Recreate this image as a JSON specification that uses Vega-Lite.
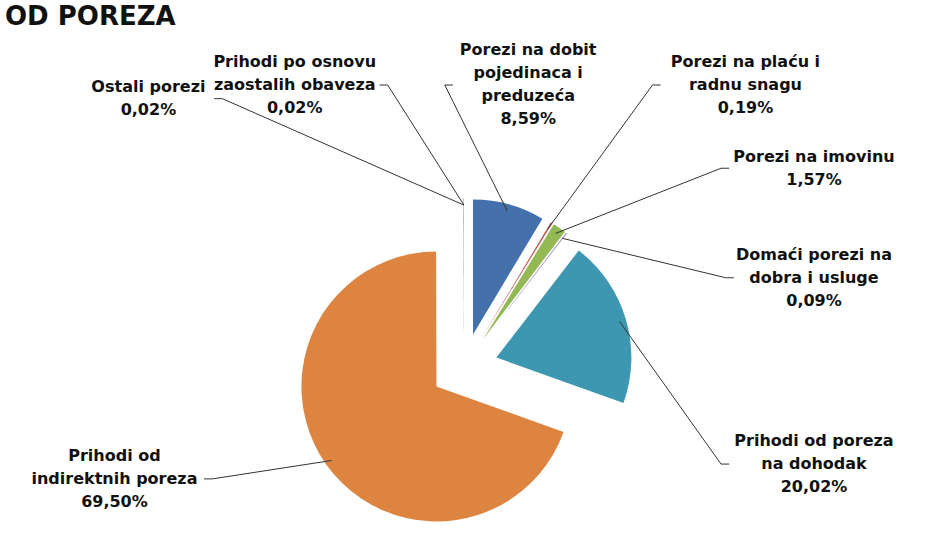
{
  "$schema": "https://vega.github.io/schema/vega-lite/v6.json",
  "width": 935,
  "height": 547,
  "autosize": {"type": "none"},
  "padding": 0,
  "background": "#ffffff",
  "config": {"view": {"stroke": null}},
  "title": {"text": "OD POREZA", "anchor": "start", "frame": "group", "orient": "top", "offset": -30, "dx": 5, "font": "DejaVu Sans", "fontSize": 26, "fontWeight": "bold", "color": "#111111"},
  "data": {"values": [
    {"category": "Porezi na dobit pojedinaca i preduzeća", "label": "Porezi na dobit\npojedinaca i\npreduzeća", "value": 8.59},
    {"category": "Porezi na plaću i radnu snagu", "label": "Porezi na plaću i\nradnu snagu", "value": 0.19},
    {"category": "Porezi na imovinu", "label": "Porezi na imovinu", "value": 1.57},
    {"category": "Domaći porezi na dobra i usluge", "label": "Domaći porezi na\ndobra i usluge", "value": 0.09},
    {"category": "Prihodi od poreza na dohodak", "label": "Prihodi od poreza\nna dohodak", "value": 20.02},
    {"category": "Prihodi od indirektnih poreza", "label": "Prihodi od\nindirektnih poreza", "value": 69.50},
    {"category": "Ostali porezi", "label": "Ostali porezi", "value": 0.02},
    {"category": "Prihodi po osnovu zaostalih obaveza", "label": "Prihodi po osnovu\nzaostalih obaveza", "value": 0.02}
  ]},
  "transform": [
    {"window": [{"op": "sum", "field": "value", "as": "cum"}], "frame": [null, 0]},
    {"calculate": "datum.cum - datum.value", "as": "v0"},
    {"calculate": "(datum.cum - datum.value / 2) * PI / 50", "as": "mid"},
    {"calculate": "datum.value + 12", "as": "w"},
    {"window": [{"op": "sum", "field": "w", "as": "wcum"}], "frame": [null, 0]},
    {"joinaggregate": [{"op": "sum", "field": "w", "as": "wtot"}]},
    {"calculate": "(datum.wcum - datum.w / 2) / datum.wtot * 2 * PI - 0.1885", "as": "la"},
    {"calculate": "0.25 * sin(datum.mid)", "as": "cx"},
    {"calculate": "0.25 * cos(datum.mid)", "as": "cy"},
    {"calculate": "1.2 * sin(datum.mid)", "as": "sx"},
    {"calculate": "1.2 * cos(datum.mid)", "as": "sy"},
    {"calculate": "datum.label + '\\n' + replace(format(datum.value, '.2f'), '.', ',') + '%'", "as": "txt"},
    {"calculate": "split(datum.txt, '\\n')", "as": "lines"},
    {"calculate": "length(datum.lines)", "as": "nl"},
    {"calculate": "max(length(datum.lines[0]), length(datum.lines[1] || ''), length(datum.lines[2] || ''), length(datum.lines[3] || ''))", "as": "maxlen"},
    {"calculate": "2.5926 * clamp(1.3 * sin(datum.la), -1, 1)", "as": "lx"},
    {"calculate": "0.4963 + 1.5926 * clamp(1.3 * cos(datum.la), -1, 1)", "as": "lyc"},
    {"calculate": "datum.lyc + (datum.nl - 1) / 2 * 0.17037", "as": "ly"},
    {"calculate": "sin(datum.la) >= 0 ? 1 : -1", "as": "side"},
    {"calculate": "datum.lx - datum.side * (datum.maxlen * 0.0352 + 0.03)", "as": "ax"},
    {"calculate": "datum.ax - datum.side * 0.06", "as": "ex2"}
  ],
  "layer": [
    {
      "mark": {"type": "arc", "radius": 135, "stroke": null},
      "encoding": {
        "theta": {"field": "v0", "type": "quantitative", "scale": {"domain": [0, 100], "range": [0, 6.283185307179586]}},
        "theta2": {"field": "cum"},
        "x": {"field": "cx", "type": "quantitative", "scale": {"domain": [-3.43704, 3.48889], "nice": false, "zero": false}, "axis": null},
        "y": {"field": "cy", "type": "quantitative", "scale": {"domain": [-1.33333, 2.71852], "nice": false, "zero": false}, "axis": null},
        "color": {"field": "category", "type": "nominal", "legend": null, "scale": {
          "domain": ["Porezi na dobit pojedinaca i preduzeća", "Porezi na plaću i radnu snagu", "Porezi na imovinu", "Domaći porezi na dobra i usluge", "Prihodi od poreza na dohodak", "Prihodi od indirektnih poreza", "Ostali porezi", "Prihodi po osnovu zaostalih obaveza"],
          "range": ["#4470AC", "#C0504D", "#93B955", "#8064A2", "#3E97B1", "#DD8540", "#2C4D75", "#772C2A"]}}
      }
    },
    {
      "mark": {"type": "rule", "color": "#333333", "strokeWidth": 1},
      "encoding": {
        "x": {"field": "sx", "type": "quantitative", "scale": {"domain": [-3.43704, 3.48889], "nice": false, "zero": false}, "axis": null},
        "y": {"field": "sy", "type": "quantitative", "scale": {"domain": [-1.33333, 2.71852], "nice": false, "zero": false}, "axis": null},
        "x2": {"field": "ex2"},
        "y2": {"field": "lyc"}
      }
    },
    {
      "mark": {"type": "rule", "color": "#333333", "strokeWidth": 1},
      "encoding": {
        "x": {"field": "ex2", "type": "quantitative", "scale": {"domain": [-3.43704, 3.48889], "nice": false, "zero": false}, "axis": null},
        "y": {"field": "lyc", "type": "quantitative", "scale": {"domain": [-1.33333, 2.71852], "nice": false, "zero": false}, "axis": null},
        "x2": {"field": "ax"}
      }
    },
    {
      "mark": {"type": "text", "font": "DejaVu Sans", "fontSize": 16, "fontWeight": "bold", "lineHeight": 23, "lineBreak": "\n", "align": "center", "baseline": "middle", "color": "#111111"},
      "encoding": {
        "x": {"field": "lx", "type": "quantitative", "scale": {"domain": [-3.43704, 3.48889], "nice": false, "zero": false}, "axis": null},
        "y": {"field": "ly", "type": "quantitative", "scale": {"domain": [-1.33333, 2.71852], "nice": false, "zero": false}, "axis": null},
        "text": {"field": "txt"}
      }
    }
  ]
}
